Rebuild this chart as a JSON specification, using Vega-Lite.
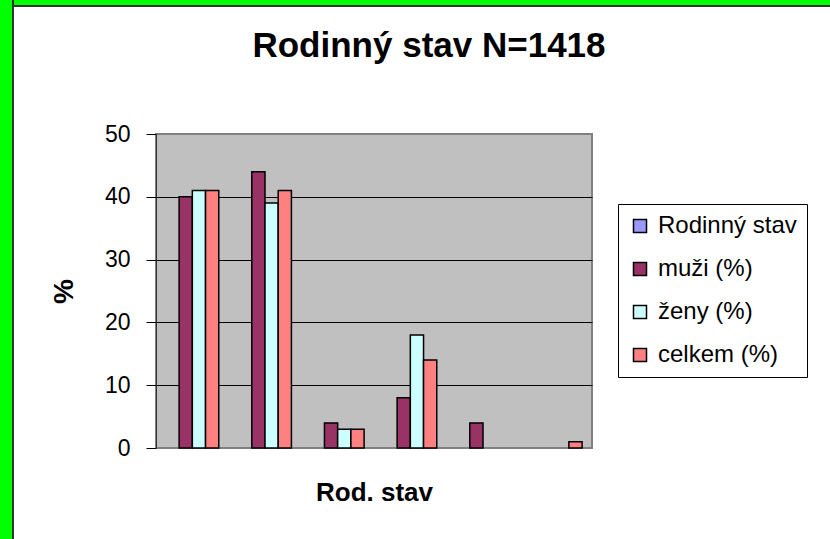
{
  "$schema": "https://vega.github.io/schema/vega-lite/v6.json",
  "background": "white",
  "padding": 0,
  "autosize": {"type": "pad"},
  "config": {
    "font": "Liberation Sans",
    "concat": {"spacing": 0}
  },
  "bounds": "flush",
  "spacing": 0,
  "hconcat": [
    {
      "width": 12, "height": 539,
      "data": {"values": []},
      "mark": "rect",
      "encoding": {},
      "view": {"fill": "#00FF00", "stroke": null}
    },
    {
      "width": 2, "height": 539,
      "data": {"values": []},
      "mark": "rect",
      "encoding": {},
      "view": {"fill": "#333333", "stroke": null}
    },
    {
      "bounds": "flush",
      "spacing": 0,
      "vconcat": [
        {
          "width": 816, "height": 5,
          "data": {"values": []},
          "mark": "rect",
          "encoding": {},
          "view": {"fill": "#00FF00", "stroke": null}
        },
        {
          "bounds": "flush",
          "spacing": 127,
          "vconcat": [
            {
              "width": 816, "height": 2,
              "data": {"values": []},
              "mark": "rect",
              "encoding": {},
              "view": {"fill": "#333333", "stroke": null}
            },
            {
              "bounds": "flush",
              "spacing": 141,
              "hconcat": [
                {
                  "width": 1, "height": 1,
                  "data": {"values": []},
                  "mark": "rect",
                  "encoding": {},
                  "view": {"fill": null, "stroke": null}
                },
                {
                  "width": 436,
                  "height": 314,
                  "title": {
                    "text": "Rodinný stav N=1418",
                    "font": "Liberation Sans",
                    "fontSize": 35,
                    "fontWeight": "bold",
                    "color": "black",
                    "anchor": "middle",
                    "frame": "group",
                    "baseline": "alphabetic",
                    "dx": 55,
                    "offset": 31
                  },
                  "data": {
                    "values": [
                      {"stav": "1", "serie": "muži (%)", "hodnota": 40},
                      {"stav": "1", "serie": "ženy (%)", "hodnota": 41},
                      {"stav": "1", "serie": "celkem (%)", "hodnota": 41},
                      {"stav": "2", "serie": "muži (%)", "hodnota": 44},
                      {"stav": "2", "serie": "ženy (%)", "hodnota": 39},
                      {"stav": "2", "serie": "celkem (%)", "hodnota": 41},
                      {"stav": "3", "serie": "muži (%)", "hodnota": 4},
                      {"stav": "3", "serie": "ženy (%)", "hodnota": 3},
                      {"stav": "3", "serie": "celkem (%)", "hodnota": 3},
                      {"stav": "4", "serie": "muži (%)", "hodnota": 8},
                      {"stav": "4", "serie": "ženy (%)", "hodnota": 18},
                      {"stav": "4", "serie": "celkem (%)", "hodnota": 14},
                      {"stav": "5", "serie": "muži (%)", "hodnota": 4},
                      {"stav": "6", "serie": "celkem (%)", "hodnota": 1}
                    ]
                  },
                  "mark": {"type": "bar", "stroke": "black", "strokeWidth": 1.5},
                  "encoding": {
                    "x": {
                      "field": "stav",
                      "type": "nominal",
                      "sort": null,
                      "scale": {"paddingInner": 0.2727, "paddingOuter": 0.1364},
                      "axis": {
                        "title": "Rod. stav",
                        "labels": false,
                        "ticks": false,
                        "domain": false,
                        "grid": false,
                        "titleFont": "Liberation Sans",
                        "titleFontSize": 26,
                        "titleFontWeight": "bold",
                        "titleColor": "black",
                        "titlePadding": 31
                      }
                    },
                    "xOffset": {
                      "field": "serie",
                      "type": "nominal",
                      "scale": {
                        "domain": ["Rodinný stav", "muži (%)", "ženy (%)", "celkem (%)"],
                        "paddingInner": 0,
                        "paddingOuter": 0
                      }
                    },
                    "y": {
                      "field": "hodnota",
                      "type": "quantitative",
                      "scale": {"domain": [0, 50], "nice": false},
                      "axis": {
                        "title": "%",
                        "values": [0, 10, 20, 30, 40, 50],
                        "labelFont": "Liberation Sans",
                        "labelFontSize": 23,
                        "labelColor": "black",
                        "labelPadding": 16,
                        "tickSize": 10,
                        "tickColor": "black",
                        "tickWidth": 1,
                        "domainColor": "#333333",
                        "domainWidth": 1,
                        "grid": true,
                        "gridWidth": 1,
                        "gridColor": {
                          "condition": {"test": "datum.value === 0 || datum.value === 50", "value": "transparent"},
                          "value": "black"
                        },
                        "titleFont": "Liberation Sans",
                        "titleFontSize": 28,
                        "titleFontWeight": "bold",
                        "titleColor": "black",
                        "titlePadding": 26
                      }
                    },
                    "color": {
                      "field": "serie",
                      "type": "nominal",
                      "scale": {
                        "domain": ["Rodinný stav", "muži (%)", "ženy (%)", "celkem (%)"],
                        "range": ["#9999FF", "#993366", "#CCFFFF", "#FF8080"]
                      },
                      "legend": {
                        "title": null,
                        "orient": "none",
                        "legendX": 618,
                        "legendY": 204,
                        "fillColor": "white",
                        "strokeColor": "black",
                        "padding": 10,
                        "rowPadding": 19,
                        "labelOffset": 6,
                        "labelFont": "Liberation Sans",
                        "labelFontSize": 24,
                        "labelColor": "black",
                        "labelLimit": 300,
                        "symbolType": "square",
                        "symbolSize": 169,
                        "symbolStrokeColor": "black",
                        "symbolStrokeWidth": 1.5,
                        "symbolOpacity": 1
                      }
                    }
                  },
                  "view": {"fill": "#C0C0C0", "stroke": "#808080", "strokeWidth": 2}
                }
              ]
            }
          ]
        }
      ]
    }
  ]
}
